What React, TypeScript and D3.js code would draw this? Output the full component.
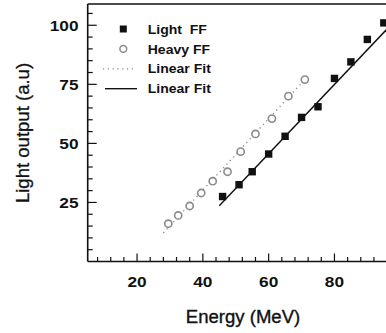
import * as d3 from 'd3';

// Light fission fragments (filled squares)
const lightEnergy = [46, 51, 55, 60, 65, 70, 75, 80, 85, 90, 95];
const lightOutput = [27.5, 32.5, 38, 45.5, 53, 61, 65.5, 77.5, 84.5, 94, 101];

// Heavy fission fragments (open circles)
const heavyEnergy = [29.5, 32.5, 36, 39.5, 43, 47.5, 51.5, 56, 61, 66, 71];
const heavyOutput = [16, 19.5, 23.5, 29, 34, 38, 46.5, 54, 60.5, 70, 77];

// linear fits: [slope, intercept], drawn over [xStart, xEnd]
const lightFit = [1.467, -42.4];
const lightFitRange = [45, 100];
const heavyFit = [1.51, -30.2];
const heavyFitRange = [28, 72];

const xTicks = [20, 40, 60, 80];
const yTicks = [25, 50, 75, 100];
const legendLabels = ['Light  FF', 'Heavy FF', 'Linear Fit', 'Linear Fit'];

const W = 386;
const H = 333;
const FONT = '"Liberation Sans", Arial, Helvetica, sans-serif';
const GREY = '#8a8a8a';

export default function App() {
  const x = d3.scaleLinear().domain([5, 100]).range([87.7, 87.7 + 95 * 3.29]);
  const y = d3.scaleLinear().domain([0, 109]).range([261.5, 4]);

  const x0 = x.range()[0];
  const y0 = y.range()[0];
  const yTop = y.range()[1];

  const minorX = d3.range(8, 100, 4);
  const minorY = d3.range(5, 109, 5);

  const fitLine = (fit: number[], range: number[]) =>
    d3.line<number>().x((e) => x(e)).y((e) => y(fit[0] * e + fit[1]))(range) ?? '';

  const lightPts = lightEnergy.map((e, i) => ({ e, v: lightOutput[i] }));
  const heavyPts = heavyEnergy.map((e, i) => ({ e, v: heavyOutput[i] }));

  const stretched = (tx: number, ty: number, sx: number, rot = 0) =>
    `translate(${tx},${ty}) rotate(${rot}) scale(${sx},1)`;

  const legendX = 123.3;
  const legendY = 29;
  const legendStep = 19.9;

  return (
    <svg
      width={W}
      height={H}
      style={{ position: 'absolute', left: 0, top: 0, background: '#fff' }}
      fontFamily={FONT}
    >
      <defs>
        <clipPath id="plot-clip">
          <rect x={x0} y={yTop} width={W - x0} height={y0 - yTop} />
        </clipPath>
      </defs>

      {/* frame */}
      <line x1={x0} x2={W + 5} y1={yTop} y2={yTop} stroke="#111" strokeWidth={1.6} />
      <line x1={x0} x2={x0} y1={yTop} y2={y0} stroke="#111" strokeWidth={1.6} />
      <line x1={x0} x2={W + 5} y1={y0} y2={y0} stroke="#111" strokeWidth={1.6} />

      {/* inward ticks */}
      {minorX.map((t) => (
        <line
          key={`xt${t}`}
          x1={x(t)}
          x2={x(t)}
          y1={y0}
          y2={y0 - (t % 20 === 0 ? 8 : 4.5)}
          stroke="#111"
          strokeWidth={1.2}
        />
      ))}
      {minorY.map((t) => (
        <line
          key={`yt${t}`}
          x1={x0}
          x2={x0 + (t % 25 === 0 ? 9 : 5)}
          y1={y(t)}
          y2={y(t)}
          stroke="#111"
          strokeWidth={1.2}
        />
      ))}

      {/* tick labels */}
      {xTicks.map((t) => (
        <text
          key={`xl${t}`}
          transform={stretched(x(t), 286.5, 1.15)}
          textAnchor="middle"
          fontSize={15}
          fontWeight="bold"
          fill="#111"
        >
          {t}
        </text>
      ))}
      {yTicks.map((t) => (
        <text
          key={`yl${t}`}
          transform={stretched(78.5, y(t) + 5.3, 1.15)}
          textAnchor="end"
          fontSize={15}
          fontWeight="bold"
          fill="#111"
        >
          {t}
        </text>
      ))}

      {/* axis titles */}
      <text
        transform={stretched(243, 323, 1.03)}
        textAnchor="middle"
        fontSize={18}
        fill="#111"
        stroke="#111"
        strokeWidth={0.35}
      >
        Energy (MeV)
      </text>
      <text
        transform={stretched(28.5, 133, 1.03, -90)}
        textAnchor="middle"
        fontSize={18}
        fill="#111"
        stroke="#111"
        strokeWidth={0.3}
      >
        Light output (a.u)
      </text>

      <g clipPath="url(#plot-clip)">
        {/* fits */}
        <path d={fitLine(heavyFit, heavyFitRange)} fill="none" stroke={GREY} strokeWidth={1.3} strokeDasharray="1.3 3.6" />
        <path d={fitLine(lightFit, lightFitRange)} fill="none" stroke="#111" strokeWidth={1.4} />

        {/* heavy FF */}
        {heavyPts.map((d, i) => (
          <circle key={`h${i}`} cx={x(d.e)} cy={y(d.v)} r={3.6} fill="#fff" stroke={GREY} strokeWidth={1.6} />
        ))}

        {/* light FF */}
        {lightPts.map((d, i) => (
          <rect key={`l${i}`} x={x(d.e) - 3.7} y={y(d.v) - 3.7} width={7.4} height={7.4} fill="#111" />
        ))}
      </g>

      {/* legend */}
      <rect x={legendX - 3.5} y={legendY - 3.5} width={7} height={7} fill="#111" />
      <circle cx={legendX} cy={legendY + legendStep} r={3.4} fill="#fff" stroke={GREY} strokeWidth={1.5} />
      <line
        x1={103}
        x2={135}
        y1={legendY + legendStep * 2}
        y2={legendY + legendStep * 2}
        stroke={GREY}
        strokeWidth={1.2}
        strokeDasharray="1.2 3.6"
      />
      <line x1={105} x2={137} y1={legendY + legendStep * 3} y2={legendY + legendStep * 3} stroke="#111" strokeWidth={1.4} />
      {legendLabels.map((lab, i) => (
        <text
          key={`lg${i}`}
          transform={stretched(147.7, legendY + legendStep * i + 4.6, 1.08)}
          fontSize={13}
          fontWeight="bold"
          fill="#111"
          style={{ whiteSpace: 'pre' }}
        >
          {lab}
        </text>
      ))}
    </svg>
  );
}
